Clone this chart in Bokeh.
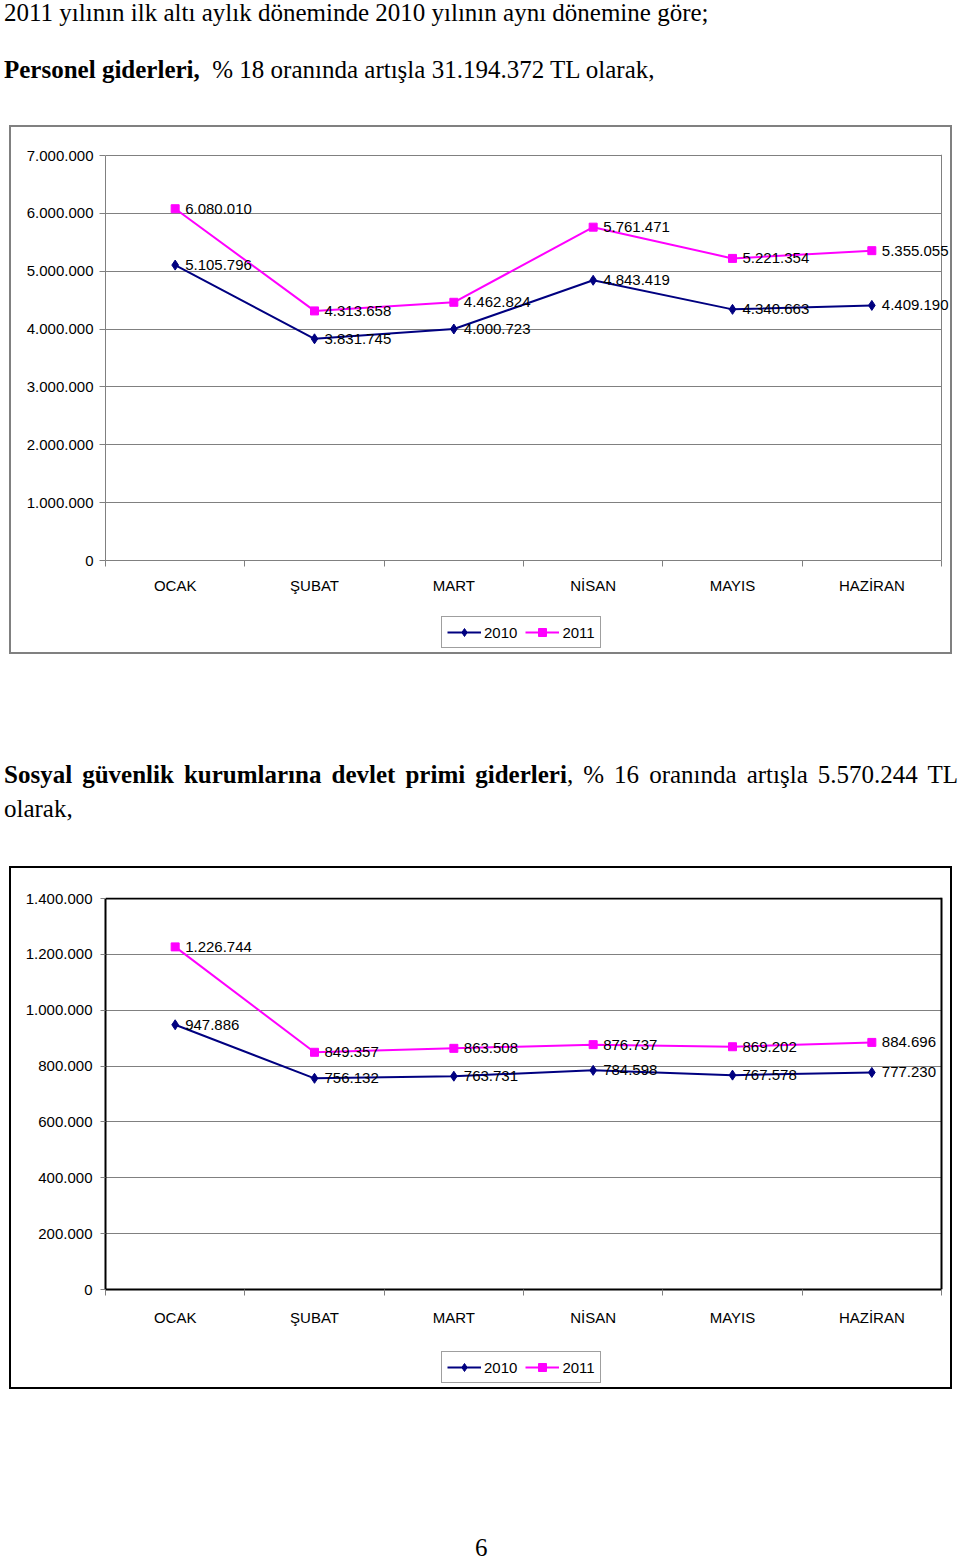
from bokeh.plotting import figure
from bokeh.models import (Range1d, FixedTicker, CustomJSTickFormatter, ColumnDataSource,
                          Legend, LegendItem, Div, LabelSet, Grid, Span)
from bokeh.layouts import column
from bokeh.core.properties import value
from bokeh.embed import file_html
from bokeh.resources import INLINE

# ---------------- data ----------------
months = ["OCAK", "ŞUBAT", "MART", "NİSAN", "MAYIS", "HAZİRAN"]
series_names = ["2010", "2011"]

personel_2010 = [5105796, 3831745, 4000723, 4843419, 4340663, 4409190]
personel_2011 = [6080010, 4313658, 4462824, 5761471, 5221354, 5355055]
personel_ticks = [0, 1000000, 2000000, 3000000, 4000000, 5000000, 6000000, 7000000]

sgk_2010 = [947886, 756132, 763731, 784598, 767578, 777230]
sgk_2011 = [1226744, 849357, 863508, 876737, 869202, 884696]
sgk_ticks = [0, 200000, 400000, 600000, 800000, 1000000, 1200000, 1400000]

NAVY = "#000080"
MAGENTA = "#FF00FF"
SANS = "Liberation Sans"
SERIF = "Liberation Serif"

STYLE_10 = dict(color=NAVY, marker="diamond", size=10)
STYLE_11 = dict(color=MAGENTA, marker="square", size=8)

HAS_CROSS = "cross_bounds" in Grid.properties()

# layout (pixels)
PLOT_LEFT_BORDER = 94
PLOT_W = 836            # width of the plotting area (categories)
EXTRA_W = 9 if HAS_CROSS else 0   # room right of the plot area for data labels
TOP_PAD = 1 if HAS_CROSS else 0   # 1px above the top edge line, so that line is drawn


def tr(n):
    return f"{n:,}".replace(",", ".")


def make_chart(v2010, v2011, yticks, frame_color, plot_color, plot_width, chart_h,
               top_b, bottom_b, plot_h, ytick_out, ylab_standoff, xlab_standoff,
               legend_h, legend_loc):
    n = len(months)
    centers = [i + 0.5 for i in range(n)]
    bounds = [i for i in range(n + 1)]
    x_end = n * (PLOT_W + EXTRA_W) / PLOT_W
    y_end = yticks[-1] + (yticks[-1] - yticks[0]) * TOP_PAD / plot_h
    bd = f"2px solid {frame_color}"
    p = figure(width=943, height=chart_h, output_backend="svg", toolbar_location=None,
               x_range=Range1d(0, x_end), y_range=Range1d(yticks[0], y_end),
               min_border_left=PLOT_LEFT_BORDER, min_border_right=13 - EXTRA_W,
               min_border_top=top_b - TOP_PAD, min_border_bottom=bottom_b, margin=(0, 0, 0, 9),
               styles={"border-top": bd, "border-left": bd, "border-right": bd})
    p.background_fill_color = "white"
    p.border_fill_color = "white"

    ya = p.yaxis[0]
    ya.ticker = FixedTicker(ticks=yticks)
    ya.formatter = CustomJSTickFormatter(args=dict(yvals=yticks, ylabels=[tr(t) for t in yticks]),
                                         code="return ylabels[yvals.indexOf(tick)];")
    ya.bounds = (yticks[0], yticks[-1])
    ya.axis_line_color = plot_color
    ya.axis_line_width = plot_width
    ya.major_tick_line_color = "#808080"
    ya.major_tick_in = 0
    ya.major_tick_out = ytick_out
    ya.minor_tick_line_color = None
    ya.major_label_standoff = ylab_standoff
    ya.major_label_text_font = SANS
    ya.major_label_text_font_size = "15px"
    ya.major_label_text_color = "black"

    xa = p.xaxis[0]
    xa.ticker = FixedTicker(ticks=centers, minor_ticks=bounds)
    xa.formatter = CustomJSTickFormatter(args=dict(mlabels=months),
                                         code="return mlabels[Math.floor(tick)];")
    xa.bounds = (0, n)
    xa.axis_line_color = plot_color
    xa.axis_line_width = plot_width
    xa.major_tick_line_color = None
    xa.major_tick_in = 0
    xa.major_tick_out = 6
    xa.minor_tick_line_color = "#808080"
    xa.minor_tick_in = 0
    xa.minor_tick_out = 6
    xa.major_label_standoff = xlab_standoff
    xa.major_label_text_font = SANS
    xa.major_label_text_font_size = "15px"
    xa.major_label_text_color = "black"

    p.xgrid.visible = False
    p.ygrid.ticker = FixedTicker(ticks=yticks[:-1])
    p.ygrid.grid_line_color = "#808080"
    p.ygrid.grid_line_width = 1
    if HAS_CROSS:
        p.ygrid.cross_bounds = (0, n)
        p.outline_line_color = None
        # top and right edges of the plot area
        p.add_layout(Grid(dimension=1, ticker=FixedTicker(ticks=[yticks[-1]]), cross_bounds=(0, n),
                          grid_line_color=plot_color, grid_line_width=plot_width))
        p.add_layout(Span(location=n, dimension="height", line_color=plot_color,
                          line_width=plot_width))
    else:
        p.outline_line_color = plot_color
        p.outline_line_width = plot_width

    src = ColumnDataSource(dict(x=centers, y10=v2010, y11=v2011,
                                l10=[tr(v) for v in v2010], l11=[tr(v) for v in v2011]))
    for ycol, st in (("y10", STYLE_10), ("y11", STYLE_11)):
        p.line("x", ycol, source=src, line_color=st["color"], line_width=2)
        p.scatter("x", ycol, source=src, marker=st["marker"], size=st["size"],
                  fill_color=st["color"], line_color=st["color"])
    for ycol, tcol in (("y10", "l10"), ("y11", "l11")):
        p.add_layout(LabelSet(x="x", y=ycol, text=tcol, source=src, x_offset=10,
                              text_baseline="middle", text_align="left",
                              text_font=value(SANS), text_font_size="15px", text_color="black"))

    # legend strip (bottom part of the chart box); its glyphs reuse the series,
    # which fall outside this strip's ranges, so only the legend is visible
    lf = figure(width=943, height=legend_h, output_backend="svg", toolbar_location=None,
                x_range=Range1d(0, 1), y_range=Range1d(-2, -1),
                x_axis_type=None, y_axis_type=None,
                min_border_left=PLOT_LEFT_BORDER, min_border_right=13 - EXTRA_W,
                min_border_top=0, min_border_bottom=0, margin=(0, 0, 0, 9),
                styles={"border-bottom": bd, "border-left": bd, "border-right": bd})
    lf.outline_line_color = None
    lf.background_fill_color = "white"
    lf.border_fill_color = "white"
    items = []
    for name, ycol, st in zip(series_names, ("y10", "y11"), (STYLE_10, STYLE_11)):
        rl = lf.line("x", ycol, source=src, line_color=st["color"], line_width=2)
        rm = lf.scatter("x", ycol, source=src, marker=st["marker"], size=st["size"],
                        fill_color=st["color"], line_color=st["color"])
        items.append(LegendItem(label=name, renderers=[rl, rm]))
    legend = Legend(items=items, location=legend_loc, orientation="horizontal",
                    border_line_color="#404040", border_line_width=1,
                    background_fill_color="white", background_fill_alpha=1,
                    padding=5, spacing=8, margin=0, glyph_width=34, glyph_height=20,
                    label_standoff=3, label_text_font=SANS, label_text_font_size="15px",
                    label_text_color="black", label_height=20)
    lf.add_layout(legend)
    return p, lf


chart1, leg1 = make_chart(personel_2010, personel_2011, personel_ticks, "#808080", "#808080", 1,
                          480, 28, 47, 405, 6, 6, 10, 49, (336, 6))
chart2, leg2 = make_chart(sgk_2010, sgk_2011, sgk_ticks, "#000000", "#000000", 2,
                          474, 30, 53, 391, 5, 8, 13, 49, (336, 6))

LINE = f"position:absolute;left:4px;font-family:'{SERIF}',serif;font-size:25px;line-height:25px;white-space:nowrap;color:#000;"

header = Div(text=(
    "<div style='position:relative;width:956px;height:125px;'>"
    f"<div style=\"{LINE}top:0px;\">2011 yılının ilk altı aylık döneminde 2010 yılının aynı dönemine göre;</div>"
    f"<div style=\"{LINE}top:57px;\"><b>Personel giderleri,</b>&nbsp; % 18 oranında artışla 31.194.372 TL olarak,</div>"
    "</div>"), width=960, height=125, margin=0)

JUST = (f"position:absolute;left:4px;width:954px;font-family:'{SERIF}',serif;font-size:25px;"
        "line-height:25px;color:#000;text-align:justify;text-align-last:justify;")
middle = Div(text=(
    "<div style='position:relative;width:956px;height:212px;'>"
    f"<div style=\"{JUST}top:108px;\"><b>Sosyal güvenlik kurumlarına devlet primi giderleri</b>, % 16 oranında artışla 5.570.244 TL</div>"
    f"<div style=\"{LINE}top:142px;\">olarak,</div>"
    "</div>"), width=960, height=212, margin=0)

footer = Div(text=(
    "<div style='position:relative;width:956px;height:170px;'>"
    f"<div style=\"position:absolute;left:475px;top:146px;font-family:'{SERIF}',serif;font-size:25px;line-height:25px;color:#000;\">6</div>"
    "</div>"), width=960, height=170, margin=0)

page = column(header, chart1, leg1, middle, chart2, leg2, footer, spacing=0, margin=0)

open("out.html", "w").write(file_html(page, INLINE))
